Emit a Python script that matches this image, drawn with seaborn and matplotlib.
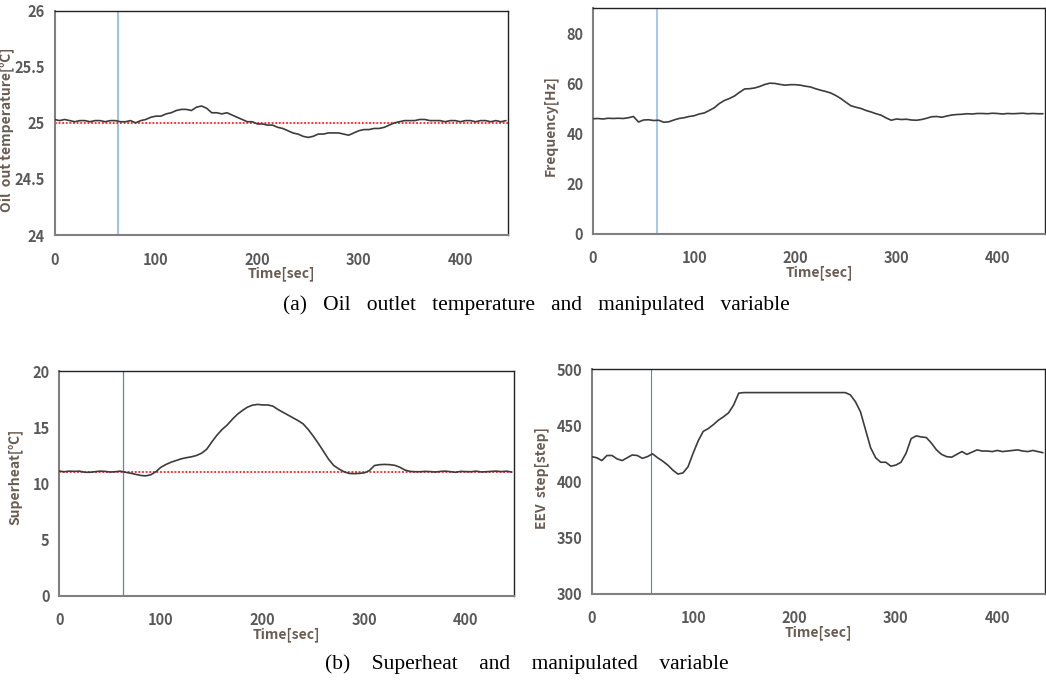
import numpy as np
import pandas as pd
import matplotlib
matplotlib.use("Agg")
import matplotlib.pyplot as plt
import seaborn as sns

# ---------------- data ----------------
time_s = list(range(0, 450, 5))

oil_temp = [25.03, 25.02, 25.03, 25.02, 25.01, 25.02, 25.02, 25.01, 25.02, 25.02,
            25.01, 25.02, 25.02, 25.01, 25.01, 25.02, 25.00, 25.02, 25.03, 25.05,
            25.06, 25.06, 25.08, 25.09, 25.11, 25.12, 25.12, 25.11, 25.14, 25.15,
            25.13, 25.09, 25.09, 25.08, 25.09, 25.07, 25.05, 25.03, 25.01, 25.01,
            24.99, 24.99, 24.98, 24.98, 24.96, 24.95, 24.93, 24.91, 24.90, 24.88,
            24.87, 24.88, 24.90, 24.90, 24.91, 24.91, 24.91, 24.90, 24.89, 24.91,
            24.93, 24.94, 24.94, 24.95, 24.95, 24.96, 24.98, 25.00, 25.01, 25.02,
            25.02, 25.02, 25.03, 25.03, 25.02, 25.02, 25.02, 25.01, 25.02, 25.02,
            25.01, 25.02, 25.02, 25.01, 25.02, 25.02, 25.01, 25.02, 25.01, 25.02]

frequency = [45.9, 46.0, 45.8, 46.1, 46.0, 46.1, 46.0, 46.3, 46.8, 44.6,
             45.4, 45.5, 45.2, 45.3, 44.5, 44.7, 45.4, 46.0, 46.3, 46.8,
             47.1, 47.8, 48.2, 49.2, 50.3, 52.0, 53.2, 54.0, 55.0, 56.5,
             57.8, 57.9, 58.2, 58.8, 59.6, 60.1, 60.0, 59.6, 59.3, 59.5,
             59.5, 59.3, 58.9, 58.6, 57.9, 57.3, 56.8, 56.2, 55.2, 54.0,
             52.5, 51.1, 50.5, 50.0, 49.2, 48.6, 47.9, 47.3, 46.2, 45.3,
             45.8, 45.6, 45.7, 45.4, 45.3, 45.6, 46.1, 46.7, 46.8, 46.5,
             47.0, 47.4, 47.6, 47.7, 47.9, 47.8, 48.0, 48.0, 47.9, 48.1,
             48.0, 47.8, 48.0, 47.9, 48.0, 48.1, 47.9, 48.0, 47.9, 47.9]

superheat = [11.10, 11.05, 11.10, 11.08, 11.10, 11.00, 11.00, 11.05, 11.10, 11.08,
             11.02, 11.05, 11.10, 11.00, 10.92, 10.82, 10.72, 10.68, 10.78, 11.05,
             11.45, 11.70, 11.90, 12.05, 12.20, 12.30, 12.38, 12.50, 12.70, 13.05,
             13.70, 14.30, 14.80, 15.20, 15.70, 16.15, 16.50, 16.80, 16.98, 17.05,
             17.00, 17.00, 16.90, 16.60, 16.35, 16.10, 15.85, 15.60, 15.30, 14.80,
             14.20, 13.55, 12.85, 12.15, 11.60, 11.30, 11.05, 10.90, 10.88, 10.90,
             10.95, 11.15, 11.60, 11.68, 11.70, 11.68, 11.62, 11.45, 11.20, 11.08,
             11.05, 11.05, 11.08, 11.06, 11.02, 11.08, 11.10, 11.05, 11.00, 11.08,
             11.06, 11.05, 11.10, 11.03, 11.05, 11.08, 11.10, 11.06, 11.10, 11.02]

eev_step = [422, 421, 418.5, 423, 423, 420, 418.5, 421, 423.5, 423,
            420.5, 422, 424.5, 421, 418, 414.5, 410, 406.5, 407.5, 413,
            425, 436, 444.5, 447, 450.5, 454.5, 457.5, 461, 468, 478.5,
            479, 479, 479, 479, 479, 479, 479, 479, 479, 479,
            479, 479, 479, 479, 479, 479, 479, 479, 479, 479,
            479, 477, 471, 462, 446, 430, 421, 417, 417, 413.5,
            414.5, 417, 425, 438, 440.5, 439.5, 439, 434, 428, 424,
            422, 421.5, 424, 426.5, 424, 426, 428, 427, 427, 426.5,
            427.5, 426.5, 427, 427.5, 428, 427, 426.5, 427.5, 426.5, 425.5]

oil_setpoint = 25.0
superheat_setpoint = 11.0
start_times = [62.5, 63.0, 62.7, 58.3]

y_labels = ["Oil  out temperature[℃]", "Frequency[Hz]", "Superheat[℃]", "EEV  step[step]"]
x_label = "Time[sec]"
captions = ["(a)   Oil   outlet   temperature   and   manipulated   variable",
            "(b)    Superheat    and    manipulated    variable"]

# ---------------- style ----------------
sns.set_style("white")
plt.rcParams['font.family'] = ['Noto Sans CJK KR', 'DejaVu Sans']

TICK_C = "#595959"
LABEL_C = "#6a5c52"
LINE_C = "#3c3c3c"

fig = plt.figure(figsize=(10.46, 6.81), dpi=100)

positions = [
    [54.5, 10.7, 508.0, 235.0],
    [593.0, 8.3, 1045.0, 233.7],
    [59.3, 371.3, 513.7, 595.7],
    [591.7, 369.0, 1045.0, 593.7],
]
ylabel_xy = [(-0.089, 0.47), (-0.077, 0.48), (-0.082, 0.53), (-0.094, 0.515)]
W, H = 1046, 681
axes = []
for (l, t, r, b) in positions:
    ax = fig.add_axes([l / W, (H - b) / H, (r - l) / W, (b - t) / H])
    axes.append(ax)

series = [oil_temp, frequency, superheat, eev_step]
ylims = [(24, 26), (0, 90), (0, 20), (300, 500)]
yticks = [[24, 24.5, 25, 25.5, 26], [0, 20, 40, 60, 80], [0, 5, 10, 15, 20],
          [300, 350, 400, 450, 500]]
yticklabels = [["24", "24.5", "25", "25.5", "26"], None, None, None]
vcolors = ["#7fb2e0", "#8bbbe6", "#5a86b8", "#5a86b8"]
vwidths = [1.1, 1.1, 0.9, 0.8]

for i, ax in enumerate(axes):
    df = pd.DataFrame({"t": time_s, "v": series[i]})
    ax.axvline(start_times[i], color=vcolors[i], lw=vwidths[i], zorder=1)
    if i == 0:
        ax.axhline(oil_setpoint, color="#ff2020", lw=1.3, ls=(0, (1, 1)), zorder=2)
    if i == 2:
        ax.axhline(superheat_setpoint, color="#ff2020", lw=1.3, ls=(0, (1, 1)), zorder=2)
    sns.lineplot(data=df, x="t", y="v", ax=ax, color=LINE_C, lw=1.2, zorder=3)
    ax.set_xlim(0, 447)
    ax.set_ylim(*ylims[i])
    ax.set_xticks([0, 100, 200, 300, 400])
    ax.set_yticks(yticks[i])
    if yticklabels[i] is not None:
        ax.set_yticklabels(yticklabels[i])
    ax.set_xlabel(x_label, fontsize=10, color=LABEL_C, fontweight="bold", labelpad=-1)
    ax.set_ylabel(y_labels[i], fontsize=10, color=LABEL_C, fontweight="bold")
    ax.yaxis.set_label_coords(*ylabel_xy[i])
    for sp in ["left", "bottom"]:
        ax.spines[sp].set_color("#808080")
        ax.spines[sp].set_linewidth(1.5)
    for sp in ["top", "right"]:
        ax.spines[sp].set_color("#222222")
        ax.spines[sp].set_linewidth(1.0)
    ax.tick_params(axis="x", direction="in", length=5, width=1.2, color="#808080",
                   labelsize=10.5, labelcolor=TICK_C, pad=12)
    ax.tick_params(axis="y", direction="out", length=4, width=1.2, color="#808080",
                   labelsize=10.5, labelcolor=TICK_C, pad=3)
    for lab in ax.get_xticklabels() + ax.get_yticklabels():
        lab.set_fontweight("bold")

fig.text(536 / W, (H - 305) / H, captions[0], ha="center", va="center",
         family="Liberation Serif", fontsize=15.5, color="black")
fig.text(527 / W, (H - 664) / H, captions[1], ha="center", va="center",
         family="Liberation Serif", fontsize=15.5, color="black")

fig.savefig("out.png", dpi=100)
